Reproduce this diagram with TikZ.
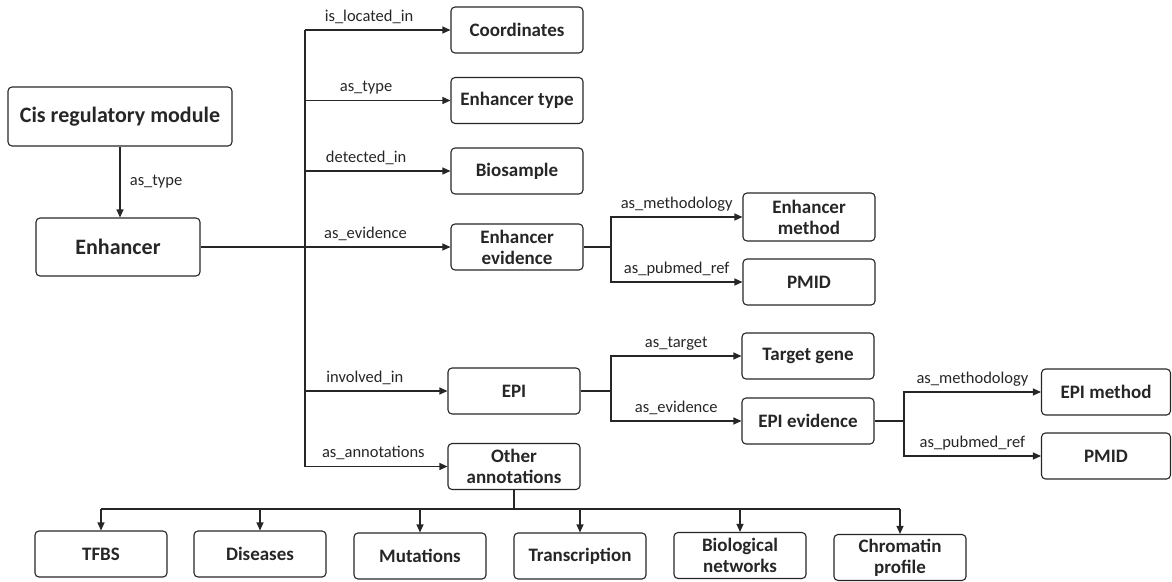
\documentclass[tikz,border=0pt]{standalone}
\usepackage{fontspec}
\setmainfont{Carlito}
\usetikzlibrary{arrows.meta}
\begin{document}
\begin{tikzpicture}[x=1pt, y=-1pt, line width=1.1pt, color=black!85,
  box/.style={draw, rounded corners=4pt, minimum width=132pt, minimum height=46pt, align=center, inner sep=2pt, font=\fontsize{19}{21}\selectfont\bfseries},
  bigbox/.style={box, font=\fontsize{22}{24}\selectfont\bfseries},
  lbl/.style={font=\fontsize{16.5}{18}\selectfont, anchor=base, yshift=9pt, inner sep=0pt},
  arr/.style={-{Triangle[length=8pt, width=7pt]}}]
\useasboundingbox (0,0) rectangle (1172,581);
% left column
\node[bigbox, minimum width=224pt, minimum height=59pt] (cis) at (120,116.5) {Cis regulatory module};
\node[bigbox, minimum width=164pt, minimum height=58pt] (enh) at (118,247) {Enhancer};
% first level
\node[box] (coord) at (517,30) {Coordinates}; \node[box] (etype) at (517,100.5) {Enhancer type};
\node[box] (bios) at (517,171) {Biosample}; \node[box] (ev) at (517,247) {Enhancer\\evidence};
\node[box] (epi) at (514,391) {EPI}; \node[box] (other) at (514,466.5) {Other\\annotations};
% second level
\node[box, minimum height=48pt] (emeth) at (809,217) {Enhancer\\method}; \node[box] (pm1) at (809,282) {PMID};
\node[box] (tgene) at (808,356) {Target gene}; \node[box] (epiev) at (808,421) {EPI evidence};
\node[box, minimum width=129pt] (epimeth) at (1106,392) {EPI method}; \node[box, minimum width=129pt] (pm2) at (1106,456) {PMID};
% annotations row
\node[box] (tfbs) at (101,554) {TFBS}; \node[box] (dis) at (260,554) {Diseases};
\node[box] (mut) at (420,556) {Mutations}; \node[box] (trans) at (580,556) {Transcription};
\node[box] (bionet) at (740,555.5) {Biological\\networks}; \node[box] (chrom) at (900,557.5) {Chromatin\\profile};

\coordinate (trunk) at (305,0); \coordinate (fork) at (611,0); \coordinate (fork2) at (904,0); \coordinate (bus) at (0,509);

\draw[arr] (cis.south) -- (cis.south |- enh.north) node[midway, right=6pt, font=\fontsize{16.5}{18}\selectfont] {as\_type};
\draw (trunk |- coord.west) -- (trunk |- other.west);
\draw[arr] (trunk |- coord.west) -- (coord.west) node[lbl, pos=.44] {is\_located\_in};
\draw[arr] (trunk |- etype.west) -- (etype.west) node[lbl, pos=.42] {as\_type};
\draw[arr] (trunk |- bios.west) -- (bios.west) node[lbl, pos=.42] {detected\_in};
\draw[arr] (enh.east) -- (ev.west) node[lbl, pos=.66] {as\_evidence};
\draw[arr] (trunk |- epi.west) -- (epi.west) node[lbl, pos=.42] {involved\_in};
\draw[arr] (trunk |- other.west) -- (other.west) node[lbl, pos=.48] {as\_annotations};

\draw (ev.east) -- (ev.east -| fork);
\draw[arr] (ev.east -| fork) |- (emeth.west) node[lbl, pos=.75] {as\_methodology};
\draw[arr] (ev.east -| fork) |- (pm1.west) node[lbl, pos=.75] {as\_pubmed\_ref};

\draw (epi.east) -- (epi.east -| fork);
\draw[arr] (epi.east -| fork) |- (tgene.west) node[lbl, pos=.75] {as\_target};
\draw[arr] (epi.east -| fork) |- (epiev.west) node[lbl, pos=.75] {as\_evidence};

\draw (epiev.east) -- (epiev.east -| fork2);
\draw[arr] (epiev.east -| fork2) |- (epimeth.west) node[lbl, pos=.75] {as\_methodology};
\draw[arr] (epiev.east -| fork2) |- (pm2.west) node[lbl, pos=.75] {as\_pubmed\_ref};

\draw (other.south) -- (other.south |- bus);
\draw (tfbs.north |- bus) -- (chrom.north |- bus);
\foreach \n in {tfbs,dis,mut,trans,bionet,chrom} \draw[arr] (\n.north |- bus) -- (\n.north);
\end{tikzpicture}
\end{document}
